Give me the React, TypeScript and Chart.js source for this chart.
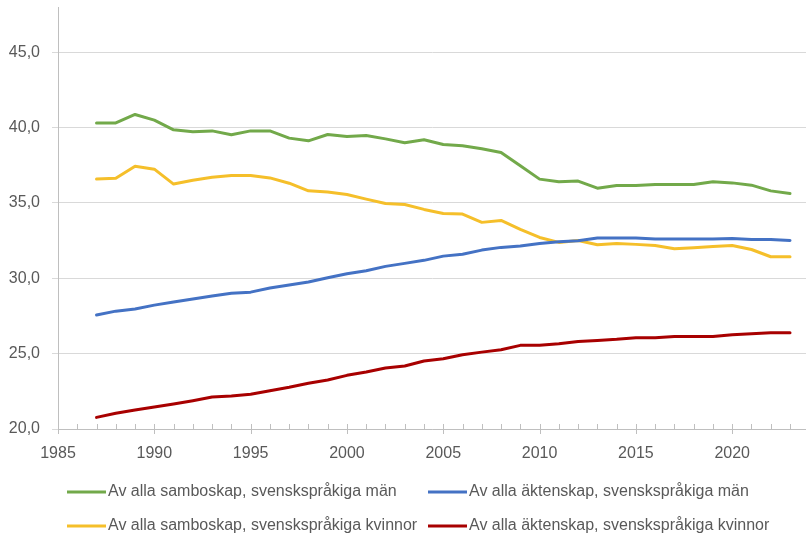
import React, { useEffect, useRef } from "react";
import { Chart, registerables } from "chart.js";

Chart.register(...registerables);

const years = [
  1987, 1988, 1989, 1990, 1991, 1992, 1993, 1994, 1995, 1996,
  1997, 1998, 1999, 2000, 2001, 2002, 2003, 2004, 2005, 2006,
  2007, 2008, 2009, 2010, 2011, 2012, 2013, 2014, 2015, 2016,
  2017, 2018, 2019, 2020, 2021, 2022, 2023,
];

const samboMan = [
  40.31, 40.31, 40.87, 40.49, 39.85, 39.72, 39.78, 39.52, 39.78, 39.78,
  39.3, 39.12, 39.54, 39.41, 39.47, 39.25, 38.99, 39.19, 38.88, 38.79,
  38.59, 38.35, 37.46, 36.58, 36.4, 36.45, 35.98, 36.16, 36.16, 36.22,
  36.22, 36.22, 36.4, 36.33, 36.18, 35.8, 35.63,
];

const aktenskapMan = [
  27.56, 27.82, 27.96, 28.22, 28.42, 28.62, 28.82, 29.0, 29.08, 29.35,
  29.55, 29.75, 30.03, 30.3, 30.5, 30.79, 30.99, 31.19, 31.47, 31.6,
  31.87, 32.05, 32.14, 32.31, 32.42, 32.49, 32.67, 32.67, 32.67, 32.6,
  32.6, 32.6, 32.6, 32.64, 32.58, 32.58, 32.51,
];

const samboKvinnor = [
  36.58, 36.64, 37.44, 37.24, 36.25, 36.51, 36.71, 36.82, 36.82, 36.66,
  36.31, 35.8, 35.72, 35.56, 35.25, 34.96, 34.9, 34.57, 34.3, 34.26,
  33.71, 33.84, 33.24, 32.71, 32.38, 32.51, 32.22, 32.31, 32.25, 32.18,
  31.96, 32.03, 32.11, 32.18, 31.91, 31.43, 31.43,
];

const aktenskapKvinnor = [
  20.77, 21.04, 21.26, 21.46, 21.66, 21.88, 22.12, 22.19, 22.3, 22.54,
  22.77, 23.03, 23.25, 23.56, 23.78, 24.05, 24.18, 24.51, 24.66, 24.93,
  25.1, 25.26, 25.55, 25.55, 25.66, 25.81, 25.88, 25.95, 26.06, 26.06,
  26.13, 26.13, 26.13, 26.26, 26.32, 26.39, 26.39,
];

const seriesLabels = [
  "Av alla samboskap, svenskspråkiga män",
  "Av alla äktenskap, svenskspråkiga män",
  "Av alla samboskap, svenskspråkiga kvinnor",
  "Av alla äktenskap, svenskspråkiga kvinnor",
];

const seriesColors = ["#72A94A", "#4472C4", "#F5BF2A", "#A80000"];

const FONT = "'Liberation Sans', Arial, sans-serif";
const TEXT_COLOR = "#595959";

const xTickMarks = {
  id: "xTickMarks",
  afterDraw(chart: any) {
    const sx = chart.scales.x;
    const ctx = chart.ctx;
    const bottom = chart.chartArea.bottom;
    ctx.save();
    ctx.strokeStyle = "#bfbfbf";
    ctx.lineWidth = 1;
    sx.ticks.forEach((t: any) => {
      const px = Math.round(sx.getPixelForValue(t.value)) + 0.5;
      const major = Math.round(t.value) % 5 === 0;
      ctx.beginPath();
      ctx.moveTo(px, bottom - 5);
      ctx.lineTo(px, major ? bottom + 5 : bottom);
      ctx.stroke();
    });
    ctx.restore();
  },
};

const customLegend = {
  id: "customLegend",
  afterDraw(chart: any) {
    const ctx = chart.ctx;
    const left = chart.chartArea.left;
    const cols = [left + 9, left + 370];
    const rows = [492, 526];
    ctx.save();
    ctx.font = `16px ${FONT}`;
    ctx.textBaseline = "middle";
    ctx.textAlign = "left";
    chart.data.datasets.forEach((ds: any, i: number) => {
      const x = cols[i % 2];
      const y = rows[Math.floor(i / 2)];
      ctx.strokeStyle = ds.borderColor;
      ctx.lineWidth = 3;
      ctx.lineCap = "butt";
      ctx.beginPath();
      ctx.moveTo(x, y);
      ctx.lineTo(x + 39, y);
      ctx.stroke();
      ctx.fillStyle = TEXT_COLOR;
      ctx.fillText(ds.label, x + 41, y);
    });
    ctx.restore();
  },
};

export default function App() {
  const ref = useRef<HTMLCanvasElement>(null);

  useEffect(() => {
    if (!ref.current) return;
    const seriesValues = [samboMan, aktenskapMan, samboKvinnor, aktenskapKvinnor];
    const chart = new Chart(ref.current, {
      type: "line",
      data: {
        datasets: seriesValues.map((vals, i) => ({
          label: seriesLabels[i],
          data: years.map((yr, j) => ({ x: yr, y: vals[j] })),
          borderColor: seriesColors[i],
          backgroundColor: seriesColors[i],
          borderWidth: 3,
          pointRadius: 0,
          tension: 0,
          borderJoinStyle: "round",
          borderCapStyle: "round",
        })),
      },
      options: {
        responsive: false,
        animation: false,
        layout: { padding: { top: 7, left: 0, right: 0, bottom: 0 } },
        plugins: {
          legend: { display: false },
          tooltip: { enabled: false },
        },
        scales: {
          x: {
            type: "linear",
            min: 1985,
            max: 2023.83,
            grid: { display: false },
            border: { display: true, color: "#bfbfbf", width: 1 },
            ticks: {
              stepSize: 1,
              includeBounds: false,
              autoSkip: false,
              maxRotation: 0,
              padding: 7,
              color: TEXT_COLOR,
              font: { family: FONT, size: 16 },
              callback: (v: any) => (Math.round(v) % 5 === 0 ? String(v) : ""),
            },
            afterFit: (s: any) => {
              s.height = 107;
              s.paddingLeft = 0;
              s.paddingRight = 0;
            },
          },
          y: {
            type: "linear",
            min: 20,
            max: 48,
            grid: { color: "#d9d9d9", lineWidth: 1, tickLength: 6 },
            border: { display: true, color: "#bfbfbf", width: 1 },
            ticks: {
              stepSize: 5,
              includeBounds: false,
              padding: 12,
              color: TEXT_COLOR,
              font: { family: FONT, size: 16 },
              callback: (v: any) => Number(v).toFixed(1).replace(".", ","),
            },
            afterFit: (s: any) => {
              s.width = 58;
              s.paddingTop = 0;
              s.paddingBottom = 0;
            },
          },
        },
      },
      plugins: [xTickMarks, customLegend],
    });
    return () => chart.destroy();
  }, []);

  return (
    <div style={{ position: "absolute", left: 0, top: 0, width: 806, height: 536, background: "#fff" }}>
      <canvas ref={ref} width={806} height={536} style={{ display: "block" }} />
    </div>
  );
}
